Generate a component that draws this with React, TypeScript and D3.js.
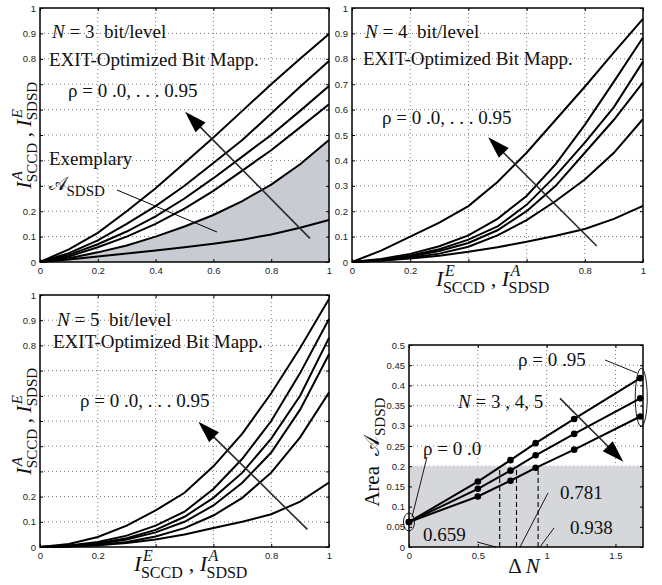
import React, { useEffect, useRef } from 'react'
import * as d3 from 'd3'

// ---- data ----
const xGrid = [0, 0.1, 0.2, 0.3, 0.4, 0.5, 0.6, 0.7, 0.8, 0.9, 1]

// EXIT curves, rho = 0.95 (top) ... 0.0 (bottom)
const exitN3 = [
  [0, 0.05, 0.115, 0.2, 0.29, 0.39, 0.49, 0.595, 0.7, 0.8, 0.898],
  [0, 0.035, 0.085, 0.15, 0.22, 0.3, 0.39, 0.48, 0.585, 0.69, 0.791],
  [0, 0.028, 0.07, 0.12, 0.18, 0.25, 0.33, 0.415, 0.5, 0.595, 0.693],
  [0, 0.022, 0.058, 0.1, 0.15, 0.21, 0.28, 0.36, 0.44, 0.53, 0.621],
  [0, 0.015, 0.038, 0.065, 0.1, 0.14, 0.185, 0.24, 0.305, 0.385, 0.48],
  [0, 0.01, 0.022, 0.033, 0.045, 0.058, 0.072, 0.088, 0.108, 0.135, 0.165],
]
const exitN4 = [
  [0, 0.045, 0.1, 0.155, 0.22, 0.315, 0.43, 0.56, 0.69, 0.825, 0.957],
  [0, 0.012, 0.032, 0.062, 0.105, 0.17, 0.26, 0.385, 0.54, 0.71, 0.884],
  [0, 0.01, 0.026, 0.05, 0.088, 0.14, 0.225, 0.34, 0.47, 0.61, 0.789],
  [0, 0.008, 0.022, 0.043, 0.075, 0.125, 0.2, 0.3, 0.43, 0.56, 0.707],
  [0, 0.006, 0.017, 0.033, 0.06, 0.105, 0.165, 0.24, 0.325, 0.43, 0.563],
  [0, 0.006, 0.014, 0.025, 0.04, 0.058, 0.08, 0.103, 0.13, 0.17, 0.221],
]
const exitN5 = [
  [0, 0.012, 0.04, 0.085, 0.145, 0.215, 0.32, 0.45, 0.61, 0.79, 0.984],
  [0, 0.006, 0.02, 0.045, 0.085, 0.14, 0.23, 0.35, 0.5, 0.69, 0.905],
  [0, 0.004, 0.015, 0.035, 0.068, 0.12, 0.195, 0.295, 0.43, 0.6, 0.83],
  [0, 0.003, 0.012, 0.03, 0.058, 0.1, 0.165, 0.255, 0.375, 0.545, 0.765],
  [0, 0.002, 0.008, 0.02, 0.042, 0.075, 0.125, 0.195, 0.295, 0.435, 0.613],
  [0, 0.002, 0.007, 0.016, 0.03, 0.05, 0.075, 0.1, 0.13, 0.18, 0.256],
]

// area vs. Delta N
const deltaN = [0, 0.5, 0.737, 0.92, 1.2, 1.68]
const areaN3 = [0.062, 0.162, 0.215, 0.257, 0.317, 0.418]
const areaN4 = [0.062, 0.144, 0.189, 0.227, 0.28, 0.368]
const areaN5 = [0.062, 0.125, 0.164, 0.196, 0.241, 0.323]
const crossings = [0.659, 0.781, 0.938]
const areaLimit = 0.2

// ticks
const exitXTicks = [0, 0.2, 0.4, 0.6, 0.8, 1]
const exitYTicks = [0, 0.1, 0.2, 0.3, 0.4, 0.5, 0.6, 0.7, 0.8, 0.9, 1]
const xLabelsFull = [0, 0.2, 0.4, 0.6, 0.8, 1]
const xLabelsShort = [0, 0.2, 0.8, 1]
const yLabelsShort = [0, 0.1, 0.2, 0.8, 0.9, 1]
const areaXTicks = [0, 0.5, 1, 1.5]
const areaYTicks = [0, 0.05, 0.1, 0.15, 0.2, 0.25, 0.3, 0.35, 0.4, 0.45, 0.5]

const SERIF = "'Liberation Serif', 'Times New Roman', serif"
const SANS = "'Liberation Sans', Arial, sans-serif"

// text with stacked super/subscripts, measured in the DOM
function mathText(parent, pieces, size, small, anchor) {
  const grp = parent.append('g').attr('font-family', SERIF).attr('fill', '#111')
  let cx = 0
  pieces.forEach(p => {
    if (p.t !== undefined) {
      const el = grp.append('text').attr('x', cx).attr('y', 0)
        .attr('font-size', size).attr('font-style', p.it ? 'italic' : 'normal')
        .style('white-space', 'pre').text(p.t)
      cx += el.node().getComputedTextLength()
    } else {
      let w = 0
      if (p.sup) {
        const e = grp.append('text').attr('x', cx + 1.5).attr('y', -size * 0.45)
          .attr('font-size', small).attr('font-style', 'italic').text(p.sup)
        w = Math.max(w, e.node().getComputedTextLength() + 1.5)
      }
      if (p.sub) {
        const e = grp.append('text').attr('x', cx - 0.5).attr('y', size * 0.3)
          .attr('font-size', small).text(p.sub)
        w = Math.max(w, e.node().getComputedTextLength())
      }
      cx += w
    }
  })
  if (anchor === 'middle') {
    grp.selectAll('text').attr('x', function () { return +d3.select(this).attr('x') - cx / 2 })
  }
  return grp
}

function arrow(g, a, b) {
  const len = 22, half = 7
  const dx = b[0] - a[0], dy = b[1] - a[1]
  const L = Math.hypot(dx, dy), ux = dx / L, uy = dy / L
  const bx = b[0] - ux * len, by = b[1] - uy * len
  g.append('line').attr('x1', a[0]).attr('y1', a[1]).attr('x2', bx + ux * 3).attr('y2', by + uy * 3)
    .attr('stroke', '#2a2a2a').attr('stroke-width', 1.6)
  g.append('path')
    .attr('d', `M${b[0]},${b[1]}L${bx - uy * half},${by + ux * half}L${bx + uy * half},${by - ux * half}Z`)
    .attr('fill', '#000')
}

function axesFrame(g, x, y, xTicks, yTicks, xLabels, yLabels) {
  const fmt = labels => d => (labels.includes(d) ? String(d) : '')
  const styleAxis = sel => {
    sel.select('.domain').remove()
    sel.selectAll('line').attr('stroke', '#000')
    sel.selectAll('text').attr('font-family', SANS).attr('font-size', 9.5).attr('fill', '#222')
  }
  const [l, r] = x.range(), [b, t] = y.range()
  g.append('g').attr('transform', `translate(0,${b})`)
    .call(d3.axisBottom(x).tickValues(xTicks).tickSize(-3).tickPadding(5).tickFormat(fmt(xLabels))).call(styleAxis)
  g.append('g').attr('transform', `translate(0,${t})`)
    .call(d3.axisTop(x).tickValues(xTicks).tickSize(-3).tickFormat(() => '')).call(styleAxis)
  g.append('g').attr('transform', `translate(${l},0)`)
    .call(d3.axisLeft(y).tickValues(yTicks).tickSize(-3).tickPadding(4).tickFormat(fmt(yLabels))).call(styleAxis)
  g.append('g').attr('transform', `translate(${r},0)`)
    .call(d3.axisRight(y).tickValues(yTicks).tickSize(-3).tickFormat(() => '')).call(styleAxis)
  g.append('rect').attr('x', l).attr('y', t).attr('width', r - l).attr('height', b - t)
    .attr('fill', 'none').attr('stroke', '#000').attr('stroke-width', 1.5)
}

function grid(g, x, y, xVals, yVals) {
  const [l, r] = x.range(), [b, t] = y.range()
  g.selectAll(null).data(xVals).enter().append('line')
    .attr('x1', d => x(d)).attr('x2', d => x(d)).attr('y1', b).attr('y2', t)
    .attr('stroke', '#777').attr('stroke-dasharray', '1,3')
  g.selectAll(null).data(yVals).enter().append('line')
    .attr('y1', d => y(d)).attr('y2', d => y(d)).attr('x1', l).attr('x2', r)
    .attr('stroke', '#777').attr('stroke-dasharray', '1,3')
}

const exitPanels = [
  {
    curves: exitN3, n: '3', left: 40, right: 329, top: 8, bottom: 262,
    xLabels: xLabelsFull, yLabels: yLabelsShort, shade: 4,
    nPos: [52, 38], exitPos: [49, 66], rhoPos: [68, 97],
    arrow: [[0.934, 0.093], [0.502, 0.592]], yTitle: [31, 135], xTitle: null,
  },
  {
    curves: exitN4, n: '4', left: 352, right: 643, top: 8, bottom: 262,
    xLabels: xLabelsShort, yLabels: exitYTicks, shade: null,
    nPos: [365, 38], exitPos: [363, 65], rhoPos: [382, 124],
    arrow: [[0.841, 0.063], [0.468, 0.491]], yTitle: null, xTitle: [493, 286],
  },
  {
    curves: exitN5, n: '5', left: 40, right: 329, top: 295, bottom: 547,
    xLabels: xLabelsShort, yLabels: yLabelsShort, shade: null,
    nPos: [57, 326], exitPos: [53, 348], rhoPos: [80, 407],
    arrow: [[0.925, 0.07], [0.548, 0.497]], yTitle: [31, 421], xTitle: [191, 571],
  },
]

const yTitlePieces = [{ t: 'I', it: true }, { sup: 'A', sub: 'SCCD' }, { t: ' , ' }, { t: 'I', it: true }, { sup: 'E', sub: 'SDSD' }]
const xTitlePieces = [{ t: 'I', it: true }, { sup: 'E', sub: 'SCCD' }, { t: ' , ' }, { t: 'I', it: true }, { sup: 'A', sub: 'SDSD' }]

function drawExitPanel(svg, p) {
  const x = d3.scaleLinear().domain([0, 1]).range([p.left, p.right])
  const y = d3.scaleLinear().domain([0, 1]).range([p.bottom, p.top])
  const g = svg.append('g')

  grid(g, x, y, exitXTicks.slice(1, -1), exitYTicks.slice(1, -1))

  if (p.shade !== null) {
    const area = d3.area().x((d, i) => x(xGrid[i])).y0(y(0)).y1(d => y(d))
    g.append('path').datum(p.curves[p.shade]).attr('d', area).attr('fill', '#c8cbd1')
  }

  const line = d3.line().x((d, i) => x(xGrid[i])).y(d => y(d))
  g.selectAll(null).data(p.curves).enter().append('path')
    .attr('d', line).attr('fill', 'none').attr('stroke', '#000').attr('stroke-width', 2)

  axesFrame(g, x, y, exitXTicks, exitYTicks, p.xLabels, p.yLabels)

  const tn = g.append('g').attr('transform', `translate(${p.nPos[0]},${p.nPos[1]})`)
  mathText(tn, [{ t: 'N', it: true }, { t: ' = ' + p.n + '  bit/level' }], 19, 14, 'start')
  const te = g.append('g').attr('transform', `translate(${p.exitPos[0]},${p.exitPos[1]})`)
  mathText(te, [{ t: 'EXIT-Optimized Bit Mapp.' }], 19, 14, 'start')
  const tr = g.append('g').attr('transform', `translate(${p.rhoPos[0]},${p.rhoPos[1]})`)
  mathText(tr, [{ t: 'ρ = 0 .0, . . . 0.95' }], 19, 14, 'start')

  arrow(g, [x(p.arrow[0][0]), y(p.arrow[0][1])], [x(p.arrow[1][0]), y(p.arrow[1][1])])

  if (p.yTitle) {
    const ty = g.append('g').attr('transform', `translate(${p.yTitle[0]},${p.yTitle[1]}) rotate(-90)`)
    mathText(ty, yTitlePieces, 21, 15, 'middle')
  }
  if (p.xTitle) {
    const tx = g.append('g').attr('transform', `translate(${p.xTitle[0]},${p.xTitle[1]})`)
    mathText(tx, xTitlePieces, 22, 16, 'middle')
  }

  if (p.shade !== null) {
    const t1 = g.append('g').attr('transform', 'translate(49,165)')
    mathText(t1, [{ t: 'Exemplary' }], 19, 14, 'start')
    const t2 = g.append('g').attr('transform', 'translate(49,190)')
    mathText(t2, [{ t: '𝒜' }, { sub: 'SDSD' }], 19, 15, 'start')
    g.append('line').attr('x1', 117).attr('y1', 190).attr('x2', 217).attr('y2', 232)
      .attr('stroke', '#000').attr('stroke-width', 1)
  }
}

function drawAreaPanel(svg) {
  const x = d3.scaleLinear().domain([0, 1.7]).range([409, 643])
  const y = d3.scaleLinear().domain([0, 0.5]).range([547, 345])
  const g = svg.append('g')

  grid(g, x, y, areaXTicks.slice(1), areaYTicks.slice(1, -1))

  g.append('rect').attr('x', x(0)).attr('y', y(areaLimit))
    .attr('width', x(1.7) - x(0)).attr('height', y(0) - y(areaLimit)).attr('fill', '#d5d7db')

  g.selectAll(null).data(crossings).enter().append('line')
    .attr('x1', d => x(d)).attr('x2', d => x(d)).attr('y1', y(0)).attr('y2', y(areaLimit))
    .attr('stroke', '#000').attr('stroke-width', 1.1).attr('stroke-dasharray', '5,3')

  const series = [areaN3, areaN4, areaN5]
  const line = d3.line().x((d, i) => x(deltaN[i])).y(d => y(d))
  series.forEach(s => {
    g.append('path').datum(s).attr('d', line).attr('fill', 'none').attr('stroke', '#000').attr('stroke-width', 2)
    g.selectAll(null).data(s).enter().append('circle')
      .attr('cx', (d, i) => x(deltaN[i])).attr('cy', d => y(d)).attr('r', 3.3).attr('fill', '#000')
  })

  axesFrame(g, x, y, areaXTicks, areaYTicks, areaXTicks, areaYTicks)

  // ellipses around rho = 0.0 and rho = 0.95 points
  g.append('ellipse').attr('cx', x(deltaN[0])).attr('cy', y(areaN3[0])).attr('rx', 5.5).attr('ry', 9)
    .attr('fill', 'none').attr('stroke', '#000').attr('stroke-width', 0.9)
  const last = deltaN.length - 1
  g.append('ellipse').attr('cx', x(deltaN[last]) + 1).attr('cy', (y(areaN3[last]) + y(areaN5[last])) / 2)
    .attr('rx', 6).attr('ry', 29).attr('fill', 'none').attr('stroke', '#000').attr('stroke-width', 0.9)

  const lab = (pos, pieces) => {
    const t = g.append('g').attr('transform', `translate(${pos[0]},${pos[1]})`)
    mathText(t, pieces, 19, 14, 'start')
  }
  const thin = (a, b) => g.append('line').attr('x1', a[0]).attr('y1', a[1]).attr('x2', b[0]).attr('y2', b[1])
    .attr('stroke', '#000').attr('stroke-width', 0.9)

  lab([518, 366], [{ t: 'ρ = 0 .95' }])
  thin([605, 360], [637, 373])
  lab([458, 408], [{ t: 'N', it: true }, { t: ' = 3 , 4, 5' }])
  arrow(g, [x(1.097), y(0.368)], [x(1.557), y(0.211)])
  lab([423, 455], [{ t: 'ρ = 0 .0' }])
  thin([427, 457], [412, 517])
  lab([423, 541], [{ t: '0.659' }])
  thin([477, 542], [496, 547])
  lab([560, 499], [{ t: '0.781' }])
  thin([548, 493], [520, 547])
  lab([570, 534], [{ t: '0.938' }])
  thin([554, 528], [540, 547])

  const ty = g.append('g').attr('transform', 'translate(379,452) rotate(-90)')
  mathText(ty, [{ t: 'Area  ' }, { t: '𝒜' }, { sub: 'SDSD' }], 21, 15, 'middle')
  const tx = g.append('g').attr('transform', 'translate(524,573)')
  mathText(tx, [{ t: 'Δ ' }, { t: 'N', it: true }], 21, 15, 'middle')
}

function App() {
  const ref = useRef(null)

  useEffect(() => {
    const svg = d3.select(ref.current)
    svg.selectAll('*').remove()
    svg.append('rect').attr('width', 662).attr('height', 585).attr('fill', '#fff')
    exitPanels.forEach(p => drawExitPanel(svg, p))
    drawAreaPanel(svg)
  }, [])

  return (
    <svg ref={ref} width={662} height={585}
      style={{ position: 'absolute', left: 0, top: 0, display: 'block' }} />
  )
}

export default App
